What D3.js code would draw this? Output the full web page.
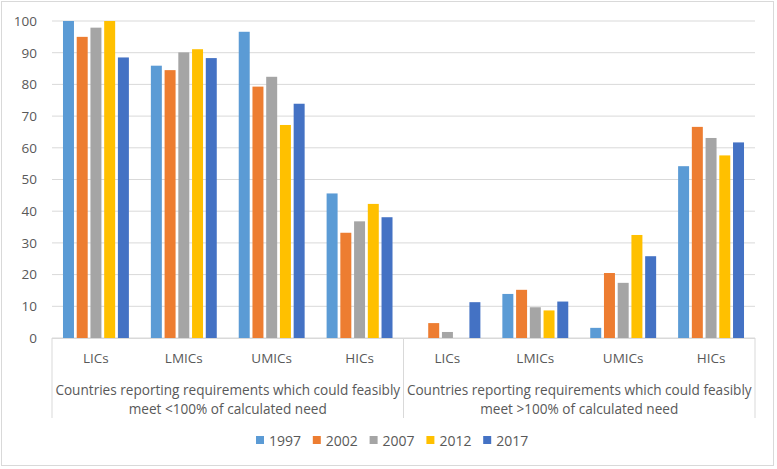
<!DOCTYPE html>
<html>
<head>
<meta charset="utf-8">
<script src="https://cdn.jsdelivr.net/npm/d3@7"></script>
<style>
  body { margin: 0; background: #fff; }
  text { font-family: "Open Sans", "Noto Sans", sans-serif; fill: #595959; }
</style>
</head>
<body>
<div id="chart"></div>
<script>
// categories and series
const groups = ["Countries reporting requirements which could feasibly|meet <100% of calculated need",
                "Countries reporting requirements which could feasibly|meet >100% of calculated need"];
const incomes = ["LICs", "LMICs", "UMICs", "HICs"];
const years = ["1997", "2002", "2007", "2012", "2017"];
const colors = ["#5B9BD5", "#ED7D31", "#A5A5A5", "#FFC000", "#4472C4"];
const yTicks = [0, 10, 20, 30, 40, 50, 60, 70, 80, 90, 100];

// one row per category (group 1 LICs..HICs, then group 2), columns are years
const v1997 = [100, 85.9, 96.6, 45.6, null, 13.9, 3.2, 54.2];
const v2002 = [95, 84.5, 79.3, 33.2, 4.7, 15.2, 20.5, 66.6];
const v2007 = [97.9, 90.1, 82.4, 36.8, 1.9, 9.7, 17.4, 63.1];
const v2012 = [100, 91.1, 67.2, 42.3, null, 8.7, 32.5, 57.6];
const v2017 = [88.5, 88.3, 73.9, 38.1, 11.3, 11.5, 25.8, 61.7];
const series = [v1997, v2002, v2007, v2012, v2017];

const width = 777, height = 469;
const plotLeft = 52, plotRight = 755, plotTop = 21, plotBottom = 338;

const svg = d3.select("#chart").append("svg")
  .attr("width", width)
  .attr("height", height);

// chart border
svg.append("rect")
  .attr("x", 1.5).attr("y", 1.5)
  .attr("width", 772).attr("height", 464)
  .attr("fill", "#fff")
  .attr("stroke", "#d9d9d9");

const cats = d3.range(groups.length * incomes.length);

const x0 = d3.scaleBand().domain(cats).range([plotLeft, plotRight]).padding(0);
const bw = x0.bandwidth();
const x1 = d3.scaleBand().domain(years).range([bw * 0.125, bw * 0.875]).paddingInner(0.2);
const y = d3.scaleLinear().domain([0, 100]).range([plotBottom, plotTop]);

// gridlines
svg.append("g").selectAll("line")
  .data(yTicks)
  .join("line")
  .attr("x1", plotLeft).attr("x2", plotRight)
  .attr("y1", d => y(d)).attr("y2", d => y(d))
  .attr("stroke", "#d9d9d9")
  .attr("stroke-width", 1);

// y axis labels
const yAxis = svg.append("g")
  .attr("transform", `translate(${plotLeft},0)`)
  .call(d3.axisLeft(y).tickValues(yTicks).tickSize(0).tickPadding(15));
yAxis.select(".domain").remove();
yAxis.selectAll("text")
  .style("font-size", "13.5px")
  .attr("fill", "#595959")
  .style("font-family", "'Open Sans', sans-serif");

// bars
const barG = svg.append("g");
years.forEach((yr, si) => {
  barG.append("g").selectAll("rect")
    .data(series[si].map((v, i) => ({ v, i })).filter(d => d.v != null))
    .join("rect")
    .attr("x", d => x0(d.i) + x1(yr))
    .attr("y", d => y(d.v))
    .attr("width", x1.bandwidth())
    .attr("height", d => y(0) - y(d.v))
    .attr("fill", colors[si]);
});

// category axis line and separators
svg.append("line")
  .attr("x1", plotLeft).attr("x2", plotRight)
  .attr("y1", plotBottom + 0.5).attr("y2", plotBottom + 0.5)
  .attr("stroke", "#d9d9d9");

const sepX = [plotLeft, x0(incomes.length), plotRight];
svg.append("g").selectAll("line")
  .data(sepX)
  .join("line")
  .attr("x1", d => d).attr("x2", d => d)
  .attr("y1", plotBottom).attr("y2", 418)
  .attr("stroke", "#d9d9d9");

// income category labels
svg.append("g").selectAll("text")
  .data(cats)
  .join("text")
  .attr("x", d => x0(d) + bw / 2)
  .attr("y", 363)
  .attr("text-anchor", "middle")
  .style("font-size", "13.5px")
  .text(d => incomes[d % incomes.length]);

// group labels
groups.forEach((g, gi) => {
  const cx = (sepX[gi] + sepX[gi + 1]) / 2;
  const t = svg.append("text")
    .attr("text-anchor", "middle")
    .style("font-size", "13.6px");
  g.split("|").forEach((line, li) => {
    t.append("tspan")
      .attr("x", cx)
      .attr("y", 395 + li * 19)
      .text(line);
  });
});

// legend
const legend = svg.append("g");
const legX = 256, legStep = 56.8;
years.forEach((yr, i) => {
  const lg = legend.append("g").attr("transform", `translate(${legX + i * legStep},0)`);
  lg.append("rect")
    .attr("x", 0).attr("y", 436)
    .attr("width", 8).attr("height", 8)
    .attr("fill", colors[i]);
  lg.append("text")
    .attr("x", 13).attr("y", 445.5)
    .style("font-size", "14px")
    .text(yr);
});
</script>
</body>
</html>
